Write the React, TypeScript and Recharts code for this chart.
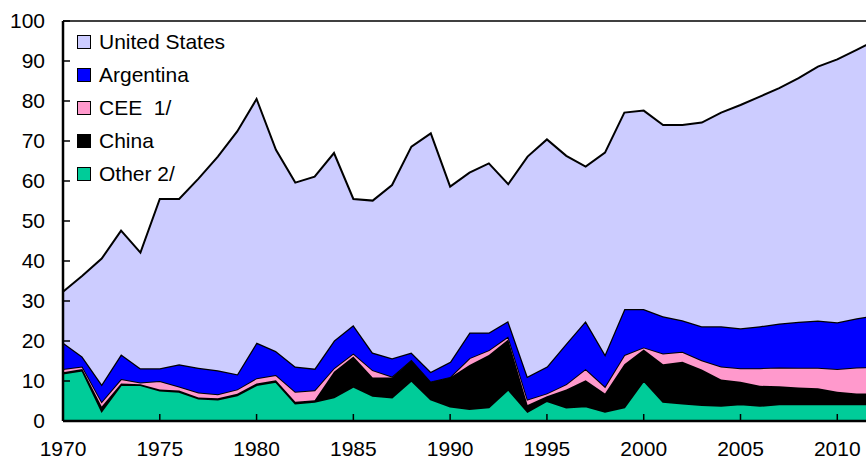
import React from 'react';
import { AreaChart, Area, XAxis, YAxis, Legend, ReferenceLine } from 'recharts';

const years = [
  1970, 1971, 1972, 1973, 1974, 1975, 1976, 1977, 1978, 1979,
  1980, 1981, 1982, 1983, 1984, 1985, 1986, 1987, 1988, 1989,
  1990, 1991, 1992, 1993, 1994, 1995, 1996, 1997, 1998, 1999,
  2000, 2001, 2002, 2003, 2004, 2005, 2006, 2007, 2008, 2009,
  2010, 2011, 2012,
];

const other = [
  11.9, 12.6, 2.5, 9.0, 9.0, 7.6, 7.3, 5.6, 5.4, 6.4,
  9.0, 9.8, 4.4, 4.8, 5.9, 8.6, 6.3, 5.9, 10.1, 5.4,
  3.6, 3.0, 3.4, 7.9, 2.3, 5.0, 3.4, 3.7, 2.3, 3.4,
  10.1, 4.8, 4.4, 4.0, 3.8, 4.2, 3.8, 4.2, 4.2, 4.2,
  4.2, 4.2, 4.2,
];

const china = [
  0.3, 0.4, 1.1, 0.4, 0.2, 0.3, 0.3, 0.3, 0.3, 0.4,
  0.4, 0.4, 0.4, 0.4, 6.4, 7.5, 4.6, 5.0, 5.1, 4.4,
  7.3, 11.0, 13.1, 12.5, 1.7, 1.2, 4.5, 6.5, 4.6, 10.8,
  7.8, 9.4, 10.4, 8.9, 6.6, 5.6, 5.0, 4.5, 4.2, 4.0,
  3.1, 2.7, 2.6,
];

const cee = [
  0.8, 0.6, 1.2, 1.1, 0.4, 2.1, 1.0, 1.2, 1.0, 1.1,
  1.3, 1.3, 2.5, 2.5, 0.9, 0.8, 1.8, 0.2, 0.1, 0.1,
  0.1, 1.7, 1.2, 0.7, 1.4, 0.7, 1.3, 2.8, 1.7, 2.3,
  0.5, 2.7, 2.5, 2.3, 3.2, 3.4, 4.4, 4.7, 4.9, 5.1,
  5.7, 6.5, 6.7,
];

const argentina = [
  6.6, 2.5, 4.4, 6.2, 3.6, 3.2, 5.6, 6.2, 6.0, 3.8,
  8.9, 6.0, 6.3, 5.4, 6.9, 7.1, 4.4, 4.6, 1.8, 2.4,
  3.8, 6.4, 4.4, 3.9, 5.7, 6.7, 10.2, 12.0, 8.1, 11.5,
  9.6, 9.3, 7.9, 8.5, 10.1, 10.0, 10.5, 11.0, 11.5, 11.8,
  11.7, 12.3, 12.9,
];

const unitedStates = [
  12.7, 20.2, 31.4, 30.9, 28.9, 42.3, 41.3, 47.3, 53.4, 60.7,
  60.9, 50.3, 46.0, 48.0, 46.9, 31.5, 38.0, 43.3, 51.5, 59.6,
  43.8, 40.0, 42.3, 34.2, 55.0, 56.8, 46.9, 38.6, 50.4, 49.1,
  49.6, 47.8, 48.8, 50.9, 53.4, 55.8, 57.4, 58.8, 60.9, 63.5,
  65.7, 67.1, 68.8,
];

const xTicks = [1970, 1975, 1980, 1985, 1990, 1995, 2000, 2005, 2010];
const yTicks = [0, 10, 20, 30, 40, 50, 60, 70, 80, 90, 100];

// legend order, top to bottom
const series = [
  { key: 'us', name: 'United States', color: '#CCCCFF' },
  { key: 'argentina', name: 'Argentina', color: '#0000FF' },
  { key: 'cee', name: 'CEE  1/', color: '#FF99CC' },
  { key: 'china', name: 'China', color: '#000000' },
  { key: 'other', name: 'Other 2/', color: '#00CC99' },
];

const data = years.map((year, i) => ({
  year,
  other: other[i],
  china: china[i],
  cee: cee[i],
  argentina: argentina[i],
  us: unitedStates[i],
}));

const font = "'Liberation Sans', Arial, sans-serif";

const LegendBox = () => (
  <div style={{ fontFamily: font, fontSize: 21, color: '#000' }}>
    {series.map((s) => (
      <div key={s.key} style={{ display: 'flex', alignItems: 'center', height: 33.2, whiteSpace: 'pre' }}>
        <span
          style={{
            display: 'inline-block',
            width: 12,
            height: 12,
            background: s.color,
            border: '1.5px solid #000',
            marginRight: 8,
          }}
        />
        <span>{s.name}</span>
      </div>
    ))}
  </div>
);

export default function App() {
  const stack = [...series].reverse();
  return (
    <div style={{ position: 'absolute', left: 0, top: 0, width: 866, height: 459, overflow: 'hidden', background: '#fff' }}>
      <AreaChart
        width={900}
        height={459}
        data={data}
        margin={{ top: 21, right: 24, left: 0, bottom: 0 }}
        style={{ fontFamily: font }}
      >
        <XAxis
          dataKey="year"
          type="number"
          domain={[1970, 2012]}
          ticks={xTicks}
          height={38}
          tickSize={-7}
          tickMargin={27}
          axisLine={{ stroke: '#000', strokeWidth: 2.5 }}
          tickLine={{ stroke: '#000', strokeWidth: 1.5 }}
          tick={{ fill: '#000', fontSize: 21 }}
        />
        <YAxis
          type="number"
          domain={[0, 100]}
          ticks={yTicks}
          width={63}
          tickSize={-7}
          tickMargin={25}
          axisLine={{ stroke: '#000', strokeWidth: 2.5 }}
          tickLine={{ stroke: '#000', strokeWidth: 1.5 }}
          tick={{ fill: '#000', fontSize: 21 }}
        />
        <ReferenceLine y={100} stroke="#000" strokeWidth={1.5} />
        {stack.map((s) => (
          <Area
            key={s.key}
            type="linear"
            dataKey={s.key}
            name={s.name}
            stackId="1"
            fill={s.color}
            fillOpacity={1}
            stroke="#000"
            strokeWidth={s.key === 'argentina' ? 2.5 : 2}
            dot={false}
            activeDot={false}
            isAnimationActive={false}
          />
        ))}
        <Legend
          layout="vertical"
          align="center"
          verticalAlign="middle"
          content={<LegendBox />}
          wrapperStyle={{ left: 77, top: 25, width: 200 }}
        />
      </AreaChart>
    </div>
  );
}
